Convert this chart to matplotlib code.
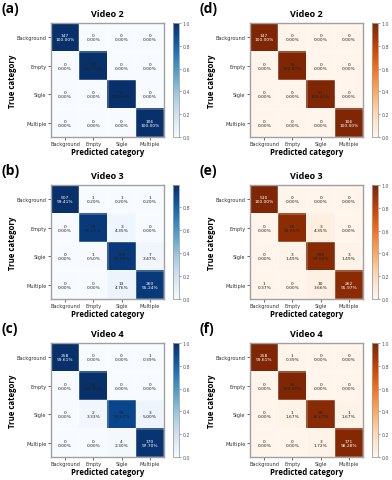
import numpy as np
import matplotlib
matplotlib.use("Agg")
import matplotlib.pyplot as plt

categories = ["Background", "Empty", "Sigle", "Multiple"]

# confusion matrices (rows = true, cols = predicted)
cm_a = [[147, 0, 0, 0], [0, 30, 0, 0], [0, 0, 31, 0], [0, 0, 0, 106]]
cm_b = [[507, 1, 1, 1], [0, 66, 3, 0], [0, 1, 194, 7], [0, 0, 13, 260]]
cm_c = [[258, 0, 0, 1], [0, 25, 0, 0], [0, 2, 55, 3], [0, 0, 4, 170]]
cm_d = [[147, 0, 0, 0], [0, 30, 0, 0], [0, 0, 31, 0], [0, 0, 0, 106]]
cm_e = [[510, 0, 0, 0], [0, 66, 3, 0], [0, 3, 196, 3], [1, 0, 10, 262]]
cm_f = [[258, 1, 0, 0], [0, 25, 0, 0], [0, 1, 58, 1], [0, 0, 3, 171]]

panel_letters = ["(a)", "(b)", "(c)", "(d)", "(e)", "(f)"]
titles = ["Video 2", "Video 3", "Video 4", "Video 2", "Video 3", "Video 4"]

W, H = 392, 481
fig = plt.figure(figsize=(W / 100, H / 100), dpi=100)

def px(x0, y0, w, h):
    # pixel box (top-left origin) -> figure fraction
    return [x0 / W, 1 - (y0 + h) / H, w / W, h / H]

col_x = [51, 250]
row_y = [24, 186, 344]
ax_w, ax_h = 113, 114
cb_gap, cb_w = 9, 6

spine_col = "#a0a0a0"
tick_col = "#333333"

def draw(cm, cmap, col, row, letter, title):
    cm = np.array(cm)
    norm = cm / cm.sum(axis=1, keepdims=True)
    ax = fig.add_axes(px(col_x[col], row_y[row], ax_w, ax_h))
    im = ax.imshow(norm, cmap=cmap, interpolation="nearest", aspect="auto")
    thresh = cm.max() / 2.0
    for i in range(cm.shape[0]):
        for j in range(cm.shape[1]):
            c = "white" if cm[i, j] > thresh else "#222222"
            ax.text(j, i, "%d\n%.2f%%" % (cm[i, j], norm[i, j] * 100),
                    ha="center", va="center", fontsize=3.2, color=c, linespacing=1.1)
    ax.set_xticks(range(4))
    ax.set_yticks(range(4))
    ax.set_xticklabels(categories, fontsize=3.6, color=tick_col)
    ax.set_yticklabels(categories, fontsize=3.6, color=tick_col)
    ax.tick_params(length=2, width=0.5, pad=1.2, colors=tick_col)
    ax.set_xticks(np.arange(-0.5, 4, 1), minor=True)
    ax.set_yticks(np.arange(-0.5, 4, 1), minor=True)
    ax.grid(which="minor", color="white", linewidth=0.3)
    ax.tick_params(which="minor", length=0)
    for s in ax.spines.values():
        s.set_color(spine_col)
        s.set_linewidth(1.0)
    ax.set_title(title, fontsize=6.5, fontweight="bold", family="Open Sans", pad=5)
    ax.set_xlabel("Predicted category", fontsize=5.6, fontweight="bold", family="Open Sans")
    ax.set_ylabel("True category", fontsize=5.6, fontweight="bold", family="Open Sans")
    ax.xaxis.set_label_coords(0.5, -0.088)
    ax.yaxis.set_label_coords(-0.30, 0.5)

    cax = fig.add_axes(px(col_x[col] + ax_w + cb_gap, row_y[row], cb_w, ax_h))
    cb = fig.colorbar(im, cax=cax)
    cb.ax.tick_params(labelsize=3.4, length=1.5, width=0.4, pad=1, colors="#555555")
    cb.outline.set_edgecolor(spine_col)
    cb.outline.set_linewidth(0.6)

    fig.text((col_x[col] - 50) / W, 1 - (row_y[row] - 15) / H, letter,
             fontsize=10, fontweight="bold", family="Open Sans", va="center", ha="left")

draw(cm_a, "Blues", 0, 0, panel_letters[0], titles[0])
draw(cm_b, "Blues", 0, 1, panel_letters[1], titles[1])
draw(cm_c, "Blues", 0, 2, panel_letters[2], titles[2])
draw(cm_d, "Oranges", 1, 0, panel_letters[3], titles[3])
draw(cm_e, "Oranges", 1, 1, panel_letters[4], titles[4])
draw(cm_f, "Oranges", 1, 2, panel_letters[5], titles[5])

fig.savefig("out.png", dpi=100)
